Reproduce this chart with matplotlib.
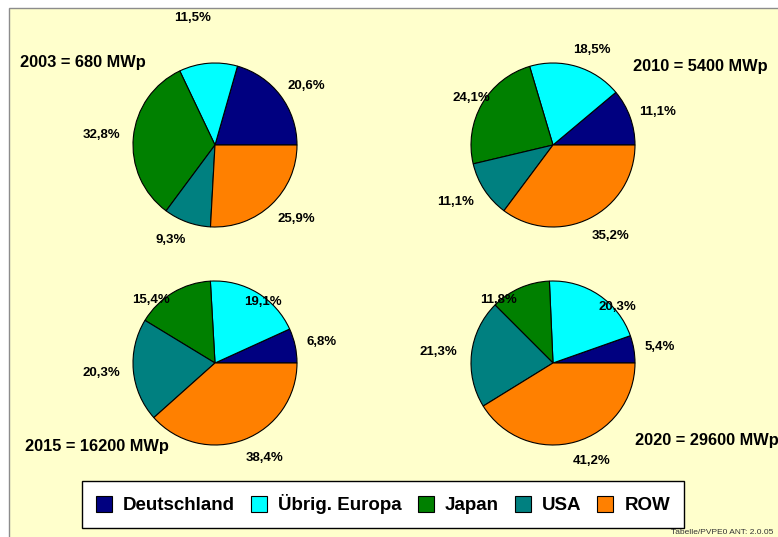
import matplotlib
matplotlib.use("Agg")
import matplotlib.pyplot as plt
from matplotlib.patches import Rectangle, Patch

plt.rcParams['font.family'] = ['Liberation Sans', 'DejaVu Sans']

# ---- data ----
regions = ['Deutschland', 'Übrig. Europa', 'Japan', 'USA', 'ROW']
colors = ['#000080', '#00FFFF', '#008000', '#008080', '#FF8000']
years = [2003, 2010, 2015, 2020]
capacity_mwp = [680, 5400, 16200, 29600]
share_2003 = [20.6, 11.5, 32.8, 9.3, 25.9]
share_2010 = [11.1, 18.5, 24.1, 11.1, 35.2]
share_2015 = [6.8, 19.1, 15.4, 20.3, 38.4]
share_2020 = [5.4, 20.3, 11.8, 21.3, 41.2]
shares = [share_2003, share_2010, share_2015, share_2020]

# ---- layout (pixels) ----
W, H = 778, 537
fig = plt.figure(figsize=(W / 100, H / 100), dpi=100, facecolor='white')

def fx(x):
    return x / W

def fy(y):
    return 1 - y / H

# background panel
fig.patches.append(Rectangle((fx(9), -0.1), 1.2, fy(8) + 0.1, transform=fig.transFigure,
                             facecolor='#FFFFCC', edgecolor='#8C8C8C', lw=1.0, zorder=-10))

centers = [(215, 145), (553, 145), (215, 363), (553, 363)]
radius = 82
pad = 1.05

# label positions per pie (center of text), in region order
label_pos = [
    [(306, 86), (193, 18), (101, 135), (171, 240), (296, 219)],
    [(658, 112), (592, 50), (471, 98), (456, 202), (611, 236)],
    [(322, 342), (263, 302), (151, 300), (101, 373), (265, 458)],
    [(660, 347), (617, 307), (499, 300), (438, 352), (592, 461)],
]
title_pos = [(20, 63), (633, 67), (25, 446), (635, 441)]

for (cx, cy), vals, lpos, tpos, yr, cap in zip(centers, shares, label_pos, title_pos,
                                               years, capacity_mwp):
    r = radius * pad
    ax = fig.add_axes([fx(cx - r), fy(cy + r), 2 * r / W, 2 * r / H])
    ax.pie(vals, colors=colors, startangle=0, counterclock=True,
           wedgeprops=dict(edgecolor='black', linewidth=0.8))
    ax.set_xlim(-pad, pad)
    ax.set_ylim(-pad, pad)
    ax.set_aspect('equal')
    ax.axis('off')
    for v, (lx, ly) in zip(vals, lpos):
        fig.text(fx(lx), fy(ly), f"{v:.1f}%".replace('.', ','), ha='center', va='center',
                 fontsize=9.5, fontweight='bold', color='black')
    fig.text(fx(tpos[0]), fy(tpos[1]), f"{yr} = {cap} MWp", ha='left', va='center',
             fontsize=11.8, fontweight='bold', color='black')

handles = [Patch(facecolor=c, edgecolor='black', linewidth=0.8) for c in colors]
leg = fig.legend(handles, regions, loc='center', bbox_to_anchor=(fx(383), fy(504.5)),
                 ncol=5, fancybox=False, framealpha=1, facecolor='white', edgecolor='black',
                 prop=dict(weight='bold', size=13.5), handlelength=0.85, handleheight=0.9,
                 handletextpad=0.6, columnspacing=0.85, borderpad=0.72)
leg.get_frame().set_linewidth(1.0)

fig.text(fx(671), fy(529), "Tabelle/PVPE0 ANT: 2.0.05", ha='left', va='top',
         fontsize=6, color='#333333')

fig.savefig('out.png', dpi=100, facecolor='white')
